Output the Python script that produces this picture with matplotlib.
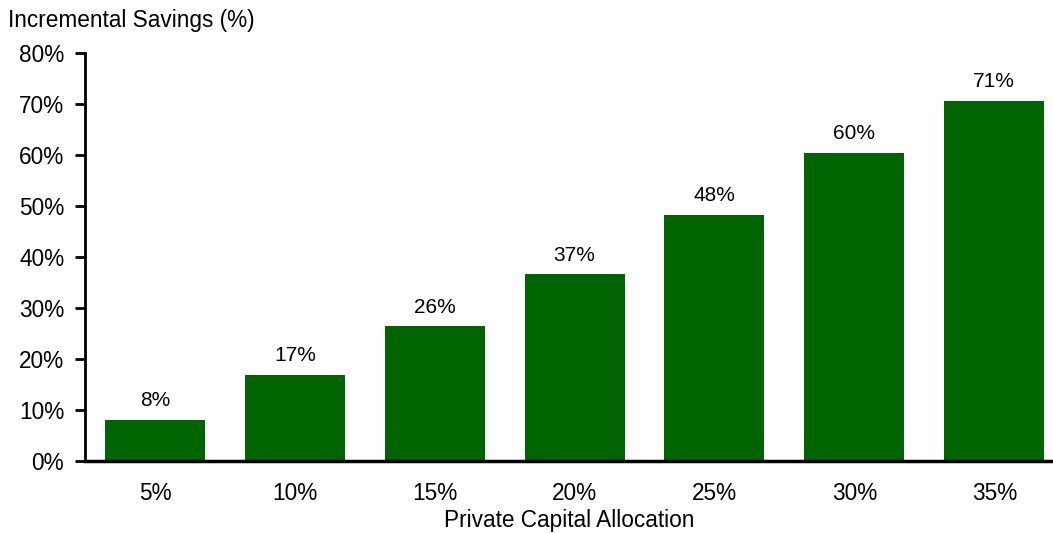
import matplotlib.pyplot as plt

plt.rcParams['font.family'] = ['Liberation Sans', 'DejaVu Sans']

allocations = ['5%', '10%', '15%', '20%', '25%', '30%', '35%']
savings = [8.1, 16.9, 26.4, 36.6, 48.3, 60.4, 70.6]
labels = ['8%', '17%', '26%', '37%', '48%', '60%', '71%']

fig = plt.figure(figsize=(10.53, 5.33), dpi=100)
ax = fig.add_axes([85 / 1053, 1 - 461 / 533, 1 - 85 / 1053, (461 - 53) / 533])

x = range(len(allocations))
bars = ax.bar(x, savings, width=0.715, color='#006400', edgecolor='none')

for b, lab in zip(bars, labels):
    ax.annotate(lab, (b.get_x() + b.get_width() / 2, b.get_height()),
                xytext=(0, 7), textcoords='offset points',
                ha='center', va='bottom', fontsize=15)

ax.set_xlim(-0.5, 6.42)
ax.set_ylim(0, 80)
ax.set_yticks(range(0, 81, 10))
ax.set_yticklabels([f'{v}%' for v in range(0, 81, 10)], fontsize=16.3)
ax.set_xticks(list(x))
ax.set_xticklabels(allocations, fontsize=16.3)
ax.tick_params(axis='x', length=0, pad=15)
ax.tick_params(axis='y', length=7, width=2, pad=8)

ax.spines['top'].set_visible(False)
ax.spines['right'].set_visible(False)
ax.spines['left'].set_linewidth(2)
ax.spines['bottom'].set_linewidth(2.5)

ax.set_xlabel('Private Capital Allocation', fontsize=16.3, labelpad=3)
fig.text(8 / 1053, 1 - 21 / 533, 'Incremental Savings (%)', fontsize=16.3,
         ha='left', va='center')

fig.savefig('out.png', dpi=100)
